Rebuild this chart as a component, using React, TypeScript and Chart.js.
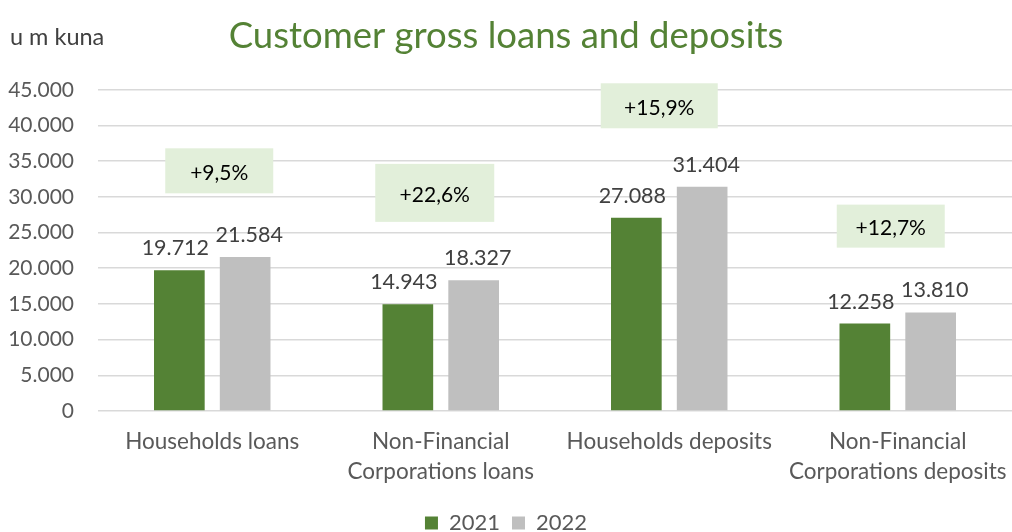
import React, { useEffect, useRef } from "react";
import { Chart, registerables } from "chart.js";

Chart.register(...registerables);

const categories: string[][] = [
  ["Households loans"],
  ["Non-Financial", "Corporations loans"],
  ["Households deposits"],
  ["Non-Financial", "Corporations deposits"],
];
const seriesNames = ["2021", "2022"];
const values2021 = [19712, 14943, 27088, 12258];
const values2022 = [21584, 18327, 31404, 13810];
const growthLabels = ["+9,5%", "+22,6%", "+15,9%", "+12,7%"];
const yTicksMax = 45000;
const yTickStep = 5000;

// annotation box placement (style/layout only)
const boxLayout = [
  { yVal: 33650, dx: 7, w: 108, h: 45 },
  { yVal: 30560, dx: -6, w: 119, h: 58 },
  { yVal: 42760, dx: -10, w: 117, h: 45 },
  { yVal: 25900, dx: -7, w: 108, h: 43 },
];

const FONT = "Lato, 'Open Sans', sans-serif";
const GREEN = "#548235";
const GRAY = "#bfbfbf";

function fmt(n: number): string {
  if (n < 1000) return String(n);
  return Math.floor(n / 1000) + "." + String(n % 1000).padStart(3, "0");
}

const extrasPlugin = {
  id: "extras",
  beforeDatasetsDraw(chart: any) {
    const ctx = chart.ctx;
    const x = chart.scales.x;
    const y = chart.scales.y;
    ctx.save();
    growthLabels.forEach((t, i) => {
      const b = boxLayout[i];
      const cx = x.getPixelForValue(i) + b.dx;
      const cy = y.getPixelForValue(b.yVal);
      ctx.fillStyle = "#e2efda";
      ctx.fillRect(cx - b.w / 2, cy - b.h / 2, b.w, b.h);
      ctx.fillStyle = "#000000";
      ctx.font = `21px ${FONT}`;
      ctx.textAlign = "center";
      ctx.textBaseline = "middle";
      ctx.fillText(t, cx, cy + 2);
    });
    ctx.restore();
  },
  afterDatasetsDraw(chart: any) {
    const ctx = chart.ctx;
    ctx.save();
    ctx.font = `21.5px ${FONT}`;
    ctx.fillStyle = "#404040";
    ctx.textAlign = "center";
    ctx.textBaseline = "alphabetic";
    chart.data.datasets.forEach((ds: any, di: number) => {
      const meta = chart.getDatasetMeta(di);
      meta.data.forEach((bar: any, i: number) => {
        const shift = di === 0 ? -4 : 4;
        ctx.fillText(fmt(ds.data[i]), bar.x + shift, bar.y - 15);
      });
    });
    ctx.fillStyle = "#404040";
    ctx.font = `23.5px ${FONT}`;
    ctx.textAlign = "left";
    ctx.textBaseline = "middle";
    ctx.fillText("u m kuna", 10, 37);
    ctx.restore();
  },
};

export default function App() {
  const ref = useRef<HTMLCanvasElement | null>(null);
  useEffect(() => {
    if (!ref.current) return;
    const chart = new Chart(ref.current, {
      type: "bar",
      data: {
        labels: categories as any,
        datasets: [
          {
            label: seriesNames[0],
            data: values2021,
            backgroundColor: GREEN,
            categoryPercentage: 0.576,
            barPercentage: 0.77,
          },
          {
            label: seriesNames[1],
            data: values2022,
            backgroundColor: GRAY,
            categoryPercentage: 0.576,
            barPercentage: 0.77,
          },
        ],
      },
      options: {
        animation: false,
        responsive: true,
        maintainAspectRatio: false,
        layout: { padding: { left: 0, right: 0, top: 0, bottom: -12 } },
        scales: {
          x: {
            grid: { display: false },
            border: { display: false },
            ticks: {
              color: "#595959",
              font: { family: FONT, size: 22.5, lineHeight: 1.33 },
              padding: 8,
              maxRotation: 0,
              autoSkip: false,
            },
            afterFit: (s: any) => {
              s.height = 89;
              s.paddingLeft = 0;
              s.paddingRight = 0;
            },
          },
          y: {
            min: 0,
            max: yTicksMax,
            grid: { color: "#d9d9d9", drawTicks: false, lineWidth: 1.5 },
            border: { display: false },
            ticks: {
              stepSize: yTickStep,
              color: "#595959",
              font: { family: FONT, size: 21 },
              padding: 24,
              callback: (v: any) => fmt(Number(v)),
            },
            afterFit: (s: any) => {
              s.width = 98;
            },
          },
        },
        plugins: {
          title: {
            display: true,
            text: "Customer gross loans and deposits",
            color: GREEN,
            font: { family: FONT, size: 36.5, weight: "normal" },
            padding: { top: 14, bottom: 32 },
          },
          legend: {
            position: "bottom",
            labels: {
              boxWidth: 13,
              boxHeight: 13,
              padding: 12,
              color: "#595959",
              font: { family: FONT, size: 22 },
            },
          },
          tooltip: { enabled: false },
        },
      },
      plugins: [extrasPlugin],
    });
    return () => chart.destroy();
  }, []);
  return (
    <div style={{ position: "fixed", left: 0, top: 0, width: 1012, height: 532 }}>
      <canvas ref={ref} />
    </div>
  );
}
